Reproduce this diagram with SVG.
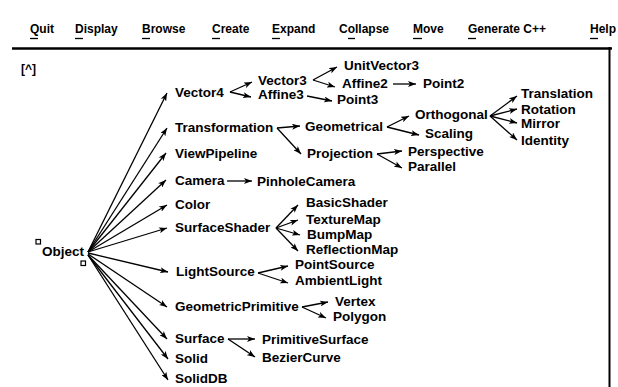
<svg xmlns="http://www.w3.org/2000/svg" width="618" height="387" viewBox="0 0 618 387">
<style>
text{font-family:"Liberation Sans",Arial,sans-serif;font-weight:bold;fill:#000}
.n{font-size:13.5px}
.m{font-size:12px}
.c line{stroke:#000;stroke-width:1.3;marker-end:url(#ah)}
.u{stroke:#000;stroke-width:1.3}
.frame{stroke:#000;fill:none}
.sq{fill:#fff;stroke:#000;stroke-width:1.2}
</style>
<defs>
<marker id="ah" viewBox="0 0 8 6" refX="8" refY="3" markerWidth="8" markerHeight="6" markerUnits="userSpaceOnUse" orient="auto">
<path d="M0,0 L8,3 L0,6 L2,3 z" fill="#000"/>
</marker>
</defs>
<rect width="618" height="387" fill="#fff"/>
<g id="menu">
<text class="m" x="30" y="33">Quit</text>
<text class="m" x="75" y="33">Display</text>
<text class="m" x="142" y="33">Browse</text>
<text class="m" x="212" y="33">Create</text>
<text class="m" x="272" y="33">Expand</text>
<text class="m" x="339" y="33">Collapse</text>
<text class="m" x="413" y="33">Move</text>
<text class="m" x="468" y="33">Generate C++</text>
<text class="m" x="590" y="33">Help</text>
<line class="u" x1="30" y1="38.5" x2="38" y2="38.5"/>
<line class="u" x1="75" y1="38.5" x2="83" y2="38.5"/>
<line class="u" x1="142" y1="38.5" x2="150" y2="38.5"/>
<line class="u" x1="212" y1="38.5" x2="220" y2="38.5"/>
<line class="u" x1="272" y1="38.5" x2="280" y2="38.5"/>
<line class="u" x1="348" y1="38.5" x2="355" y2="38.5"/>
<line class="u" x1="413" y1="38.5" x2="422" y2="38.5"/>
<line class="u" x1="468" y1="38.5" x2="476" y2="38.5"/>
<line class="u" x1="590" y1="38.5" x2="598" y2="38.5"/>
</g>
<g id="frame">
<line class="frame" x1="12" y1="48.5" x2="612" y2="48.5" stroke-width="2.5"/>
<line class="frame" x1="609.5" y1="47" x2="609.5" y2="387" stroke-width="2"/>
<text class="m" x="21" y="73">[^]</text>
</g>
<g id="connectors" class="c">
<line x1="88" y1="252" x2="167" y2="93"/>
<line x1="88" y1="252" x2="167" y2="128"/>
<line x1="88" y1="252" x2="166" y2="153"/>
<line x1="88" y1="252" x2="166" y2="180"/>
<line x1="88" y1="252" x2="167" y2="205"/>
<line x1="88" y1="252" x2="167" y2="228"/>
<line x1="88" y1="253" x2="168" y2="272"/>
<line x1="88" y1="254" x2="167" y2="307"/>
<line x1="88" y1="255" x2="167" y2="339"/>
<line x1="88" y1="255" x2="168" y2="359"/>
<line x1="88" y1="255" x2="168" y2="380"/>
<line x1="230" y1="92" x2="252" y2="82"/>
<line x1="230" y1="92" x2="251" y2="97"/>
<line x1="313" y1="80" x2="337" y2="67"/>
<line x1="313" y1="80" x2="335" y2="87"/>
<line x1="393" y1="84" x2="416" y2="84"/>
<line x1="307" y1="96" x2="332" y2="101"/>
<line x1="277" y1="128" x2="300" y2="126"/>
<line x1="277" y1="128" x2="301" y2="154"/>
<line x1="387" y1="127" x2="409" y2="116"/>
<line x1="387" y1="127" x2="419" y2="135"/>
<line x1="490" y1="116" x2="517" y2="96"/>
<line x1="490" y1="116" x2="517" y2="109"/>
<line x1="490" y1="116" x2="517" y2="123"/>
<line x1="490" y1="116" x2="517" y2="140"/>
<line x1="377" y1="154" x2="402" y2="151"/>
<line x1="377" y1="154" x2="402" y2="168"/>
<line x1="227" y1="181" x2="252" y2="181"/>
<line x1="276" y1="228" x2="298" y2="205"/>
<line x1="276" y1="228" x2="298" y2="220"/>
<line x1="276" y1="228" x2="300" y2="235"/>
<line x1="276" y1="228" x2="298" y2="251"/>
<line x1="258" y1="273" x2="288" y2="266"/>
<line x1="258" y1="273" x2="288" y2="283"/>
<line x1="302" y1="307" x2="328" y2="302"/>
<line x1="302" y1="307" x2="326" y2="318"/>
<line x1="228" y1="339" x2="255" y2="339"/>
<line x1="228" y1="339" x2="255" y2="357"/>
</g>
<g id="Object"><rect class="sq" x="36" y="239.5" width="4.5" height="4.5"/><rect class="sq" x="81" y="261" width="4.5" height="4.5"/><text class="n" x="42" y="256">Object</text></g>
<g id="Vector4"><text class="n" x="175" y="97">Vector4</text></g>
<g id="Transformation"><text class="n" x="175" y="132">Transformation</text></g>
<g id="ViewPipeline"><text class="n" x="175" y="158">ViewPipeline</text></g>
<g id="Camera"><text class="n" x="175" y="185">Camera</text></g>
<g id="Color"><text class="n" x="175" y="209">Color</text></g>
<g id="SurfaceShader"><text class="n" x="175" y="232">SurfaceShader</text></g>
<g id="LightSource"><text class="n" x="176" y="276">LightSource</text></g>
<g id="GeometricPrimitive"><text class="n" x="175" y="311">GeometricPrimitive</text></g>
<g id="Surface"><text class="n" x="175" y="343">Surface</text></g>
<g id="Solid"><text class="n" x="175" y="363">Solid</text></g>
<g id="SolidDB"><text class="n" x="175" y="383">SolidDB</text></g>
<g id="Vector3"><text class="n" x="258" y="85">Vector3</text></g>
<g id="Affine3"><text class="n" x="258" y="99">Affine3</text></g>
<g id="UnitVector3"><text class="n" x="344" y="70">UnitVector3</text></g>
<g id="Affine2"><text class="n" x="342" y="88">Affine2</text></g>
<g id="Point2"><text class="n" x="423" y="88">Point2</text></g>
<g id="Point3"><text class="n" x="337" y="104">Point3</text></g>
<g id="Geometrical"><text class="n" x="305" y="131">Geometrical</text></g>
<g id="Orthogonal"><text class="n" x="415" y="119">Orthogonal</text></g>
<g id="Scaling"><text class="n" x="425" y="138">Scaling</text></g>
<g id="Translation"><text class="n" x="521" y="98">Translation</text></g>
<g id="Rotation"><text class="n" x="521" y="114">Rotation</text></g>
<g id="Mirror"><text class="n" x="521" y="128">Mirror</text></g>
<g id="Identity"><text class="n" x="521" y="145">Identity</text></g>
<g id="Projection"><text class="n" x="307" y="158">Projection</text></g>
<g id="Perspective"><text class="n" x="408" y="156">Perspective</text></g>
<g id="Parallel"><text class="n" x="408" y="171">Parallel</text></g>
<g id="PinholeCamera"><text class="n" x="257" y="186">PinholeCamera</text></g>
<g id="BasicShader"><text class="n" x="306" y="207">BasicShader</text></g>
<g id="TextureMap"><text class="n" x="306" y="224">TextureMap</text></g>
<g id="BumpMap"><text class="n" x="307" y="239">BumpMap</text></g>
<g id="ReflectionMap"><text class="n" x="306" y="254">ReflectionMap</text></g>
<g id="PointSource"><text class="n" x="295" y="269">PointSource</text></g>
<g id="AmbientLight"><text class="n" x="295" y="285">AmbientLight</text></g>
<g id="Vertex"><text class="n" x="335" y="306">Vertex</text></g>
<g id="Polygon"><text class="n" x="333" y="321">Polygon</text></g>
<g id="PrimitiveSurface"><text class="n" x="262" y="344">PrimitiveSurface</text></g>
<g id="BezierCurve"><text class="n" x="262" y="362">BezierCurve</text></g>
</svg>
